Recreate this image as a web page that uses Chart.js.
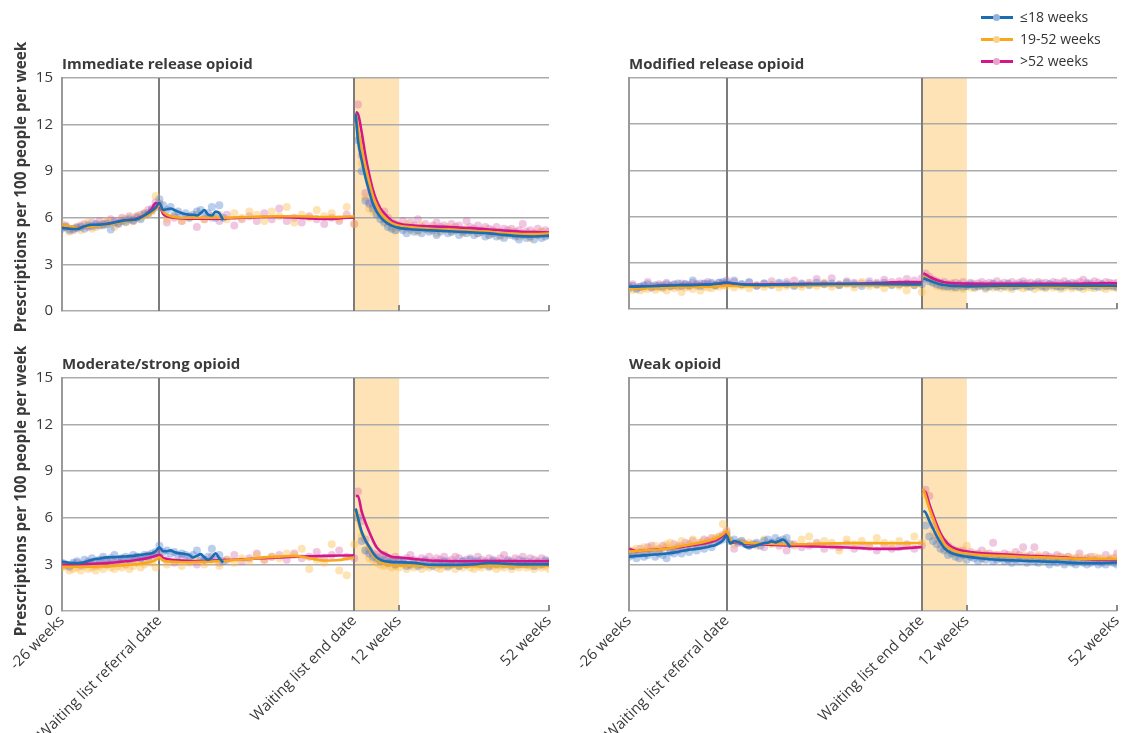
<!DOCTYPE html>
<html><head><meta charset="utf-8">
<script src="https://cdn.jsdelivr.net/npm/chart.js@4.4.1/dist/chart.umd.min.js"></script>
<style>
html,body{margin:0;padding:0;background:#fff;width:1122px;height:733px;overflow:hidden;font-family:'Open Sans',sans-serif;position:relative;}
canvas{position:absolute;}
.ttl{position:absolute;font-weight:700;font-size:15px;line-height:18px;color:#3a3a3a;white-space:nowrap;z-index:5;}
.ytl{position:absolute;font-weight:700;font-size:15.3px;line-height:18px;color:#3a3a3a;white-space:nowrap;z-index:5;transform:translate(-50%,-50%) rotate(-90deg);}
.lg{position:absolute;left:980px;height:20px;font-size:14px;line-height:20px;color:#333;z-index:5;padding-left:40px;white-space:nowrap;}
.lg .ln{position:absolute;left:1px;top:9px;width:32px;height:2.5px;}
.lg .dt{position:absolute;left:13px;top:7px;width:7px;height:7px;border-radius:50%;}
</style></head>
<body>
<canvas id="c1" width="580" height="320" style="left:0;top:0"></canvas>
<canvas id="c2" width="580" height="320" style="left:561px;top:0"></canvas>
<canvas id="c3" width="580" height="433" style="left:0;top:300px"></canvas>
<canvas id="c4" width="580" height="433" style="left:561px;top:300px"></canvas>
<div class="ttl" style="left:62px;top:54px">Immediate release opioid</div>
<div class="ttl" style="left:629px;top:54px">Modified release opioid</div>
<div class="ttl" style="left:62px;top:354px">Moderate/strong opioid</div>
<div class="ttl" style="left:629px;top:354px">Weak opioid</div>
<div class="ytl" style="left:20px;top:187px">Prescriptions per 100 people per week</div>
<div class="ytl" style="left:20px;top:491px">Prescriptions per 100 people per week</div>
<div class="lg" style="top:7px"><span class="ln" style="background:#1b6db3"></span><span class="dt" style="background:#93b2df"></span>≤18 weeks</div>
<div class="lg" style="top:29px"><span class="ln" style="background:#f7a81b"></span><span class="dt" style="background:#fdd08c"></span>19-52 weeks</div>
<div class="lg" style="top:51px"><span class="ln" style="background:#d4168b"></span><span class="dt" style="background:#eaa3cc"></span>>52 weeks</div>
<script>
function range(a, b, s) { const r = []; for (let v = a; v <= b; v += s) r.push(v); return r; }

// ---- x categories (weeks) ----
const SPAN = 52;           // weeks drawn between referral date and end date
const SHADE_WEEKS = 12;
const PRE_WEEKS = range(-26, 0, 1);
const MID_WEEKS_BLUE = range(1, 17, 1);
const MID_WEEKS = range(2, 52, 2);
const POST_WEEKS = range(1, 52, 1);
const PRE_KNOTS = [-26,-24,-22,-20,-18,-16,-14,-12,-10,-8,-6,-4,-3,-2,-1,0];
const MID_KNOTS_BLUE = range(0, 17, 1);
const MID_KNOTS = [0,1,2,4,6,8,12,16,20,24,28,32,36,40,44,48,52];
const POST_KNOTS = [0.4,1,2,3,4,5,6,7,8,10,12,16,20,24,28,32,36,40,44,48,52];
const XTICK_VALUES = [-26, 0, 52, 64, 104];
const XTICK_LABELS = ['-26 weeks', 'Waiting list referral date', 'Waiting list end date', '12 weeks', '52 weeks'];
const YTICKS = [0, 3, 6, 9, 12, 15];
const SERIES_LABELS = ['≤18 weeks', '19-52 weeks', '>52 weeks'];

// ---- Immediate release opioid ----
const irBPre = [5.35,5.3,5.28,5.45,5.55,5.55,5.6,5.7,5.8,5.85,5.9,6.15,6.3,6.45,6.65,6.95];
const irYPre = [5.5,5.45,5.35,5.4,5.45,5.5,5.55,5.65,5.75,5.8,5.9,6.05,6.2,6.35,6.55,6.85];
const irPPre = [5.45,5.4,5.35,5.4,5.5,5.55,5.6,5.7,5.8,5.85,5.95,6.15,6.35,6.6,6.95,6.8];
const irBMid = [6.95,6.5,6.55,6.6,6.5,6.4,6.3,6.25,6.2,6.2,6.15,6.3,6.5,6.2,6.15,6.4,6.3,5.85];
const irYMid = [6.85,6.4,6.2,6.05,6.0,6.0,6.0,6.0,6.02,6.05,6.08,6.1,6.1,6.08,6.05,6.05,6.1];
const irPMid = [6.8,6.25,6.1,6.0,5.97,5.95,5.95,5.95,5.98,6.02,6.05,6.05,6.02,5.95,5.92,5.96,6.02];
const irBPost = [12.7,11.0,9.7,8.6,7.7,6.9,6.4,6.05,5.8,5.5,5.35,5.25,5.2,5.15,5.1,5.05,5.0,4.9,4.82,4.8,4.85];
const irYPost = [12.7,11.8,10.5,9.3,8.3,7.4,6.8,6.35,6.05,5.65,5.48,5.38,5.3,5.25,5.2,5.15,5.1,5.0,4.95,4.95,4.98];
const irPPost = [12.8,12.7,11.5,10.0,8.8,7.8,7.1,6.6,6.3,5.8,5.62,5.5,5.45,5.42,5.38,5.32,5.25,5.18,5.12,5.08,5.05];
const irBDotPre = [5.3,5.4,5.2,5.3,5.35,5.4,5.3,5.5,5.45,5.6,5.5,5.55,5.6,5.25,5.7,5.65,5.8,5.75,5.9,5.85,6.0,5.9,6.2,6.3,6.5,6.7,7.2];
const irYDotPre = [5.6,5.4,5.1,5.3,5.4,5.2,5.5,5.7,5.3,5.4,5.6,5.5,5.8,5.7,5.4,5.6,5.9,5.7,6.0,5.8,6.1,6.0,6.3,6.2,6.4,7.4,6.9];
const irPDotPre = [5.4,5.5,5.3,5.2,5.4,5.5,5.6,5.4,5.7,5.5,5.8,5.6,5.7,5.9,5.8,5.6,6.0,5.9,6.1,5.8,6.1,6.2,6.3,6.5,6.6,7.0,6.9];
const irBDotMid = [6.8,6.5,6.7,6.2,6.4,6.1,6.3,6.0,6.2,6.4,6.5,6.1,6.3,6.7,6.0,6.8,6.0];
const irYDotMid = [5.9,6.1,5.8,6.0,6.2,5.9,6.1,6.2,5.9,6.3,6.0,6.4,6.2,5.8,6.4,6.1,6.7,5.7,6.2,6.0,6.5,6.1,6.3,5.9,6.7,5.6];
const irPDotMid = [5.7,6.0,5.8,6.1,5.4,5.9,6.0,5.8,6.2,5.5,5.9,6.1,5.8,6.3,5.9,6.6,5.8,6.0,5.7,6.1,5.9,5.6,6.0,5.8,6.2,5.6];
const irBDotPost = [11.0,9.0,7.1,6.9,6.6,6.2,5.9,5.7,5.4,5.3,5.2,5.4,5.2,5.0,5.3,5.1,5.2,5.0,5.3,5.1,5.2,4.9,5.1,5.3,5.0,5.1,5.2,4.9,5.1,5.0,5.2,4.9,5.0,5.1,4.8,4.9,5.0,4.8,4.9,4.7,5.0,4.9,4.8,4.6,4.9,4.7,4.8,4.6,4.9,4.7,4.8,4.9];
const irYDotPost = [12.0,9.5,7.3,6.6,6.4,6.3,6.1,5.8,5.6,5.4,5.2,5.5,5.3,5.6,5.2,5.4,5.1,5.5,5.3,5.2,5.4,5.0,5.3,5.2,5.4,5.1,5.3,5.2,5.0,5.3,5.1,5.2,5.0,5.1,5.2,4.9,5.0,5.1,4.8,5.0,4.9,5.1,4.9,4.8,5.0,4.9,4.7,5.0,4.9,5.1,4.9,5.0];
const irPDotPost = [13.3,10.0,7.6,7.0,6.8,6.7,6.2,6.4,6.0,5.7,5.6,5.5,5.8,5.4,5.7,5.5,5.9,5.4,5.6,5.3,5.5,5.7,5.4,5.5,5.3,5.6,5.4,5.5,5.2,5.8,5.4,5.3,5.5,5.2,5.4,5.3,5.2,5.4,5.1,5.3,5.2,5.3,5.1,5.2,5.6,5.1,5.2,5.0,5.3,5.1,5.2,5.1];

// ---- Modified release opioid ----
const mrBPre = [1.45,1.45,1.47,1.48,1.5,1.52,1.53,1.55,1.55,1.56,1.58,1.6,1.63,1.66,1.7,1.72];
const mrYPre = [1.32,1.33,1.35,1.36,1.38,1.4,1.41,1.42,1.43,1.44,1.45,1.46,1.47,1.48,1.5,1.52];
const mrPPre = [1.42,1.45,1.47,1.48,1.5,1.52,1.53,1.55,1.56,1.57,1.58,1.6,1.62,1.64,1.66,1.68];
const mrBMid = [1.72,1.7,1.66,1.6,1.57,1.56,1.57,1.58,1.6,1.61,1.62,1.62,1.62,1.62,1.61,1.6,1.6];
const mrYMid = [1.52,1.5,1.49,1.48,1.48,1.49,1.5,1.51,1.52,1.53,1.54,1.54,1.54,1.54,1.53,1.53,1.53];
const mrPMid = [1.68,1.66,1.63,1.6,1.58,1.58,1.6,1.62,1.63,1.64,1.64,1.64,1.65,1.68,1.73,1.75,1.74];
const mrBPost = [2.0,1.95,1.85,1.75,1.67,1.6,1.56,1.53,1.5,1.48,1.47,1.48,1.5,1.52,1.52,1.53,1.53,1.52,1.52,1.52,1.5];
const mrYPost = [2.1,2.0,1.88,1.76,1.67,1.6,1.55,1.51,1.48,1.45,1.44,1.44,1.45,1.46,1.46,1.46,1.45,1.45,1.44,1.44,1.43];
const mrPPost = [2.32,2.25,2.1,1.98,1.88,1.8,1.74,1.7,1.68,1.66,1.65,1.64,1.64,1.64,1.63,1.63,1.64,1.64,1.65,1.67,1.67];
const mrBDotPre = [1.4,1.5,1.3,1.45,1.5,1.6,1.4,1.55,1.5,1.45,1.6,1.5,1.55,1.65,1.5,1.6,1.55,1.85,1.6,1.5,1.65,1.6,1.7,1.55,1.7,1.75,1.7];
const mrYDotPre = [1.3,1.25,1.4,1.2,1.35,1.3,1.45,1.25,1.4,1.35,1.2,1.45,1.35,1.5,1.1,1.4,1.45,1.3,1.5,1.2,1.45,1.4,1.35,1.5,1.45,1.55,1.5];
const mrPDotPre = [1.5,1.6,1.4,1.45,1.55,1.75,1.5,1.45,1.6,1.55,1.7,1.5,1.6,1.45,1.65,1.6,1.5,1.7,1.55,1.65,1.6,1.75,1.6,1.55,1.7,1.65,1.85];
const mrBDotMid = [1.85,1.6,1.75,1.5,1.65,1.55,1.7,1.6,1.5,1.65,1.55,1.7,1.6,1.65,1.55,1.7,1.6,1.5,1.65,1.6,1.7,1.55,1.6,1.65,1.55,1.6];
const mrYDotMid = [1.4,1.5,1.35,1.55,1.45,1.6,1.4,1.5,1.55,1.45,1.6,1.5,1.7,1.45,1.55,1.6,1.4,1.75,1.5,1.55,1.35,1.6,1.5,1.2,1.55,1.1];
const mrPDotMid = [1.75,1.6,1.7,1.55,1.65,1.8,1.6,1.75,1.85,1.6,1.7,1.95,1.65,2.0,1.6,1.8,1.7,1.65,1.8,1.7,1.9,1.75,1.8,1.95,1.85,2.0];
const mrBDotPost = [2.0,1.8,1.7,1.6,1.55,1.5,1.45,1.5,1.4,1.55,1.45,1.5,1.6,1.45,1.5,1.55,1.4,1.5,1.6,1.45,1.55,1.5,1.6,1.45,1.5,1.55,1.6,1.5,1.45,1.55,1.6,1.5,1.45,1.6,1.55,1.5,1.45,1.55,1.6,1.5,1.55,1.45,1.5,1.6,1.55,1.5,1.45,1.6,1.5,1.55,1.5,1.45];
const mrYDotPost = [2.1,1.9,1.7,1.5,1.45,1.4,1.5,1.35,1.45,1.4,1.3,1.5,1.4,1.35,1.45,1.5,1.3,1.45,1.4,1.5,1.35,1.45,1.4,1.3,1.5,1.45,1.35,1.4,1.5,1.3,1.45,1.4,1.35,1.5,1.4,1.45,1.3,1.4,1.5,1.35,1.45,1.4,1.3,1.45,1.4,1.35,1.5,1.4,1.3,1.45,1.4,1.35];
const mrPDotPost = [2.3,2.1,1.9,1.8,1.7,1.75,1.6,1.65,1.7,1.6,1.75,1.55,1.7,1.6,1.65,1.75,1.6,1.7,1.65,1.8,1.6,1.7,1.65,1.75,1.6,1.7,1.8,1.65,1.7,1.6,1.75,1.65,1.7,1.6,1.75,1.7,1.65,1.8,1.6,1.7,1.65,1.75,1.9,1.7,1.65,1.8,1.7,1.6,1.75,1.7,1.65,1.7];

// ---- Moderate/strong opioid ----
const msBPre = [3.18,3.1,3.07,3.15,3.3,3.38,3.45,3.47,3.5,3.53,3.58,3.65,3.68,3.72,3.85,4.1];
const msYPre = [2.85,2.85,2.85,2.85,2.85,2.86,2.87,2.9,2.95,2.98,3.02,3.08,3.12,3.18,3.28,3.45];
const msPPre = [2.96,2.98,3.0,3.02,3.04,3.06,3.08,3.12,3.18,3.22,3.28,3.36,3.42,3.48,3.55,3.62];
const msBMid = [4.1,3.85,3.85,3.9,3.8,3.72,3.7,3.66,3.6,3.45,3.55,3.66,3.45,3.3,3.45,3.72,3.4,3.12];
const msYMid = [3.45,3.25,3.2,3.16,3.14,3.14,3.16,3.22,3.28,3.35,3.45,3.5,3.55,3.4,3.25,3.28,3.45];
const msPMid = [3.62,3.42,3.35,3.28,3.24,3.22,3.22,3.26,3.3,3.35,3.4,3.45,3.5,3.52,3.55,3.57,3.58];
const msBPost = [6.6,6.0,5.1,4.55,4.15,3.75,3.45,3.3,3.22,3.16,3.14,3.1,2.98,2.97,2.97,3.0,3.1,3.05,3.0,3.0,3.0];
const msYPost = [6.4,5.8,5.0,4.5,4.0,3.6,3.35,3.15,3.05,2.95,2.92,2.92,2.9,2.88,2.88,2.88,2.9,2.9,2.88,2.9,2.9];
const msPPost = [7.4,7.4,6.4,5.7,5.1,4.55,4.1,3.85,3.7,3.5,3.44,3.35,3.25,3.22,3.2,3.2,3.22,3.22,3.2,3.2,3.2];
const msBDotPre = [3.1,3.0,2.9,3.1,3.2,3.0,3.3,3.1,3.4,3.2,3.3,3.5,3.2,3.4,3.6,3.3,3.4,3.5,3.3,3.6,3.5,3.4,3.6,3.5,3.7,3.8,4.2];
const msYDotPre = [2.8,2.9,2.6,2.7,2.8,2.6,2.9,2.7,2.8,2.6,2.9,2.7,3.0,2.8,2.7,2.9,2.8,3.0,2.7,2.9,3.1,2.8,3.0,3.2,3.1,2.8,3.5];
const msPDotPre = [2.9,3.0,2.8,3.0,3.1,2.9,3.0,3.2,3.0,2.9,3.1,3.3,3.0,3.2,3.1,3.3,3.2,3.0,3.4,3.3,3.5,3.4,3.3,3.6,3.5,3.6,3.7];
const msBDotMid = [3.8,3.9,3.7,3.8,3.6,3.7,3.6,3.5,3.6,3.9,3.4,3.3,3.5,4.0,3.4,3.6,3.2];
const msYDotMid = [3.0,3.2,2.9,3.1,3.3,3.0,3.2,2.9,3.3,3.1,3.4,3.2,3.6,3.3,3.5,3.4,3.7,3.6,4.0,2.7,3.3,3.1,4.3,2.6,2.3,4.3];
const msPDotMid = [3.3,3.1,3.4,3.2,3.0,3.3,3.5,3.1,3.3,3.6,3.2,3.4,3.7,3.3,3.5,3.6,3.3,3.7,3.4,3.5,3.8,3.4,3.6,3.9,3.5,3.4];
const msBDotPost = [6.0,4.5,3.9,3.7,3.5,3.4,3.2,3.3,3.1,3.2,3.0,3.2,3.1,2.9,3.0,3.1,2.9,3.0,3.2,3.0,2.9,3.1,3.0,3.2,2.9,3.0,3.1,2.9,3.2,3.0,3.3,3.1,3.2,3.0,3.1,2.9,3.2,3.0,3.1,3.0,3.2,2.9,3.1,3.0,3.2,3.0,3.1,2.9,3.1,3.0,3.2,3.1];
const msYDotPost = [6.3,4.8,3.9,3.4,3.3,3.1,3.0,2.9,3.0,2.8,2.9,2.8,3.0,2.7,2.9,2.8,3.0,2.7,2.9,2.8,3.0,2.8,2.7,2.9,2.8,3.0,2.7,2.9,2.8,3.0,2.8,2.7,2.9,2.8,3.0,2.8,2.9,2.7,2.9,2.8,3.0,2.7,2.9,2.8,3.0,2.8,2.9,2.7,2.9,2.8,2.9,2.7];
const msPDotPost = [7.7,5.8,4.6,3.9,3.7,3.6,3.5,3.6,3.4,3.3,3.5,3.3,3.2,3.4,3.6,3.3,3.2,3.4,3.3,3.5,3.2,3.4,3.3,3.5,3.2,3.3,3.5,3.4,3.2,3.3,3.4,3.2,3.5,3.3,3.2,3.4,3.3,3.2,3.4,3.6,3.3,3.2,3.4,3.3,3.5,3.2,3.4,3.3,3.2,3.4,3.3,3.2];

// ---- Weak opioid ----
const wkBPre = [3.5,3.55,3.58,3.62,3.65,3.7,3.76,3.86,3.95,4.0,4.07,4.18,4.25,4.37,4.55,4.85];
const wkYPre = [3.83,3.86,3.9,3.93,3.96,4.0,4.08,4.18,4.27,4.35,4.45,4.58,4.65,4.78,4.95,5.15];
const wkPPre = [4.0,3.85,3.9,3.93,3.97,4.02,4.06,4.12,4.2,4.27,4.35,4.45,4.55,4.68,4.85,5.05];
const wkBMid = [4.85,4.35,4.5,4.45,4.35,4.15,4.1,4.15,4.22,4.3,4.37,4.4,4.48,4.42,4.5,4.6,4.42,4.1];
const wkYMid = [5.15,4.6,4.45,4.42,4.38,4.36,4.33,4.3,4.3,4.32,4.35,4.37,4.37,4.37,4.36,4.37,4.38];
const wkPMid = [5.05,4.5,4.4,4.36,4.32,4.3,4.27,4.22,4.18,4.15,4.12,4.09,4.05,4.0,4.0,4.05,4.12];
const wkBPost = [6.45,6.35,5.8,5.3,4.8,4.4,4.05,3.85,3.72,3.58,3.5,3.38,3.3,3.26,3.22,3.19,3.16,3.1,3.07,3.08,3.12];
const wkYPost = [7.88,7.4,6.6,5.95,5.3,4.8,4.35,4.1,3.95,3.77,3.7,3.6,3.56,3.52,3.48,3.45,3.42,3.38,3.35,3.35,3.35];
const wkPPost = [7.75,7.65,6.9,6.2,5.55,5.0,4.6,4.3,4.12,3.92,3.83,3.72,3.67,3.62,3.56,3.52,3.48,3.4,3.34,3.3,3.29];
const wkBDotPre = [3.5,3.6,3.4,3.7,3.5,3.6,3.8,3.5,3.7,3.6,3.4,3.8,3.7,3.9,3.7,4.0,3.8,4.1,3.9,4.2,4.0,4.3,4.1,4.4,4.5,4.6,4.9];
const wkYDotPre = [3.8,3.9,4.0,3.8,4.1,3.9,4.0,4.2,3.9,4.1,4.3,4.4,4.0,4.2,4.5,4.1,4.3,4.6,4.2,4.4,4.5,4.3,4.6,4.7,4.8,5.6,5.2];
const wkPDotPre = [3.9,3.8,3.7,4.0,3.8,4.1,4.2,3.9,4.0,4.2,4.1,3.9,4.3,4.1,4.2,4.4,4.3,4.5,4.2,4.4,4.6,4.5,4.7,4.6,4.75,4.9,5.1];
const wkBDotMid = [4.5,4.6,4.4,4.5,4.3,4.2,4.3,4.4,4.2,4.5,4.6,4.4,4.7,4.5,4.6,4.7,4.3];
const wkYDotMid = [4.3,4.5,4.4,4.2,4.6,4.3,4.5,4.4,4.2,4.6,4.8,4.3,4.5,4.4,3.9,4.6,4.3,4.5,4.2,4.7,4.4,4.3,4.5,4.2,4.8,4.4];
const wkPDotMid = [4.0,4.4,4.2,4.3,4.1,4.4,4.2,3.9,4.3,4.1,4.2,4.4,4.0,4.2,4.1,4.3,4.0,4.2,4.1,3.9,4.2,4.0,4.1,4.3,4.0,4.2];
const wkBDotPost = [5.5,4.8,4.5,4.3,4.0,3.9,3.6,3.7,3.5,3.4,3.6,3.3,3.5,3.4,3.2,3.4,3.3,3.5,3.2,3.3,3.4,3.2,3.3,3.1,3.3,3.2,3.4,3.1,3.3,3.2,3.1,3.3,3.2,3.0,3.2,3.1,3.3,3.0,3.2,3.1,3.0,3.2,3.1,3.0,3.1,3.2,3.0,3.1,3.0,3.2,3.1,3.0];
const wkYDotPost = [7.5,6.0,5.0,4.7,4.3,4.0,3.9,3.8,3.7,3.9,3.6,4.2,3.5,3.7,3.6,3.4,3.7,3.5,3.6,3.4,3.6,3.5,3.3,3.6,3.5,3.4,3.6,3.3,3.5,3.4,3.6,3.3,3.5,3.4,3.3,3.5,3.4,3.3,3.5,3.4,3.3,3.5,3.2,3.4,3.3,3.5,3.3,3.4,3.2,3.4,3.3,3.5];
const wkPDotPost = [7.8,7.4,5.5,4.9,4.5,4.4,4.2,4.0,3.9,3.8,3.9,3.7,3.8,3.6,3.7,3.9,3.6,3.7,4.4,3.6,3.5,3.7,3.6,3.5,3.8,3.6,4.1,3.5,3.6,4.1,3.5,3.4,3.6,3.5,3.4,3.6,3.5,3.4,3.5,3.3,3.4,3.7,3.3,3.4,3.5,3.3,3.4,3.2,3.6,3.3,3.4,3.7];

// ---- styles ----
const LINE_COLORS = ['#1b6db3', '#f7a81b', '#d4168b'];
const DOT_COLORS = ['rgba(86,132,204,0.40)', 'rgba(252,186,70,0.40)', 'rgba(214,100,168,0.36)'];
const TEXT = '#3a3a3a';
const FONT = "'Open Sans', sans-serif";

function pts(xs, ys, off) { return ys.map((v, i) => ({ x: xs[i] + off, y: v })); }

const decor = {
  id: 'decor',
  beforeDraw(chart) {
    const { ctx, chartArea: a, scales: { x } } = chart;
    const x0 = x.getPixelForValue(SPAN), x1 = x.getPixelForValue(SPAN + SHADE_WEEKS);
    ctx.save();
    ctx.fillStyle = '#fde3b6';
    ctx.fillRect(x0, a.top, x1 - x0, a.bottom - a.top);
    ctx.restore();
  },
  beforeDatasetsDraw(chart) {
    const { ctx, chartArea: a, scales: { x } } = chart;
    ctx.save();
    ctx.strokeStyle = '#7c7c7c'; ctx.lineWidth = 2;
    [0, SPAN].forEach(v => {
      const p = Math.round(x.getPixelForValue(v));
      ctx.beginPath(); ctx.moveTo(p, a.top); ctx.lineTo(p, a.bottom); ctx.stroke();
    });
    ctx.strokeStyle = '#8a8a8a';
    [SPAN + 12, SPAN + 52].forEach(v => {
      const p = Math.round(x.getPixelForValue(v));
      ctx.beginPath(); ctx.moveTo(p, a.bottom); ctx.lineTo(p, a.bottom - 6); ctx.stroke();
    });
    ctx.restore();
  }
};

function buildPanel(id, opt) {
  const datasets = [];
  for (let s = 0; s < 3; s++) {
    const L = opt.lines[s], D = opt.dots[s];
    const midK = (s === 0 && opt.blueShort) ? MID_KNOTS_BLUE : MID_KNOTS;
    const midW = (s === 0 && opt.blueShort) ? MID_WEEKS_BLUE : MID_WEEKS;
    const common = { label: SERIES_LABELS[s], showLine: true, borderColor: LINE_COLORS[s], borderWidth: 2.6,
      pointRadius: 0, cubicInterpolationMode: 'monotone', fill: false, order: s };
    datasets.push(Object.assign({ data: pts(PRE_KNOTS, L[0], 0).concat(pts(midK, L[1], 0).slice(1)) }, common));
    datasets.push(Object.assign({ data: pts(POST_KNOTS, L[2], SPAN) }, common));
    datasets.push({
      label: SERIES_LABELS[s] + ' (weekly)', showLine: false, order: 10 + s,
      data: pts(PRE_WEEKS, D[0], 0).concat(pts(midW, D[1], 0), pts(POST_WEEKS, D[2], SPAN)),
      pointRadius: 4, pointBorderWidth: 0, pointBackgroundColor: DOT_COLORS[s], backgroundColor: DOT_COLORS[s]
    });
  }
  new Chart(document.getElementById(id), {
    type: 'scatter',
    data: { datasets },
    plugins: [decor],
    options: {
      responsive: false, animation: false, devicePixelRatio: 1,
      layout: { padding: { top: 78, right: opt.padRight, bottom: opt.padBottom, left: 0 } },
      plugins: { legend: { display: false }, tooltip: { enabled: false }, title: { display: false } },
      scales: {
        x: {
          type: 'linear', min: -26, max: 104,
          afterBuildTicks: sc => { sc.ticks = XTICK_VALUES.map(v => ({ value: v })); },
          afterFit: sc => { sc.height = opt.xHeight; sc.paddingLeft = 0; sc.paddingRight = 0; },
          grid: { display: false, drawTicks: false }, border: { display: false },
          ticks: { display: opt.xHeight > 0, autoSkip: false, minRotation: 45, maxRotation: 45, padding: 1,
            color: TEXT, font: { family: FONT, size: 15 }, callback: (v, i) => XTICK_LABELS[i] }
        },
        y: {
          min: 0, max: 15,
          afterBuildTicks: sc => { sc.ticks = YTICKS.map(v => ({ value: v })); },
          afterFit: sc => { sc.width = opt.yWidth; sc.paddingTop = 0; sc.paddingBottom = 0; },
          grid: { color: '#ababab', lineWidth: 1.6, drawTicks: false },
          border: { display: true, color: '#9a9a9a', width: 2 },
          ticks: { display: opt.yLabels, padding: 9, color: TEXT, font: { family: FONT, size: 15 } },
          title: { display: false }
        }
      }
    }
  });
}

buildPanel('c1', { blueShort: true, yLabels: true, yWidth: 62, padRight: 31, padBottom: 9, xHeight: 0,
  lines: [[irBPre, irBMid, irBPost], [irYPre, irYMid, irYPost], [irPPre, irPMid, irPPost]],
  dots: [[irBDotPre, irBDotMid, irBDotPost], [irYDotPre, irYDotMid, irYDotPost], [irPDotPre, irPDotMid, irPDotPost]] });
buildPanel('c2', { blueShort: false, yLabels: false, yWidth: 68, padRight: 24, padBottom: 11, xHeight: 0,
  lines: [[mrBPre, mrBMid, mrBPost], [mrYPre, mrYMid, mrYPost], [mrPPre, mrPMid, mrPPost]],
  dots: [[mrBDotPre, mrBDotMid, mrBDotPost], [mrYDotPre, mrYDotMid, mrYDotPost], [mrPDotPre, mrPDotMid, mrPDotPost]] });
buildPanel('c3', { blueShort: true, yLabels: true, yWidth: 62, padRight: 31, padBottom: 0, xHeight: 122,
  lines: [[msBPre, msBMid, msBPost], [msYPre, msYMid, msYPost], [msPPre, msPMid, msPPost]],
  dots: [[msBDotPre, msBDotMid, msBDotPost], [msYDotPre, msYDotMid, msYDotPost], [msPDotPre, msPDotMid, msPDotPost]] });
buildPanel('c4', { blueShort: true, yLabels: false, yWidth: 68, padRight: 24, padBottom: 0, xHeight: 122,
  lines: [[wkBPre, wkBMid, wkBPost], [wkYPre, wkYMid, wkYPost], [wkPPre, wkPMid, wkPPost]],
  dots: [[wkBDotPre, wkBDotMid, wkBDotPost], [wkYDotPre, wkYDotMid, wkYDotPost], [wkPDotPre, wkPDotMid, wkPDotPost]] });
</script>
</body></html>
